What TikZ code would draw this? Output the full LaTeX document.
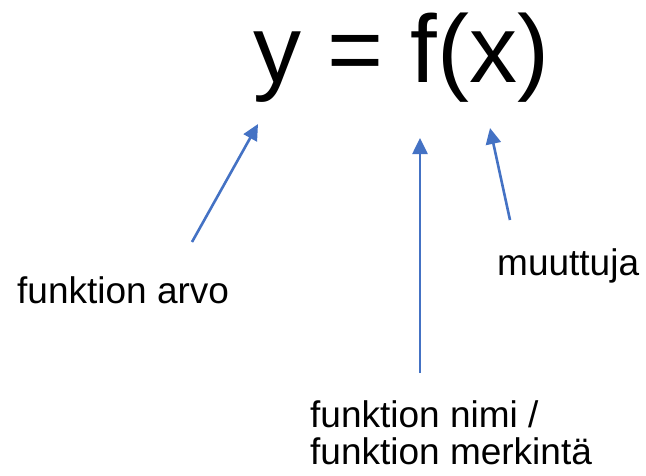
\documentclass[tikz,border=0pt]{standalone}
\usepackage{fontspec}
\setmainfont{Liberation Sans}
\usetikzlibrary{arrows.meta, positioning}
\definecolor{arrowblue}{RGB}{68, 114, 196}

\begin{document}
\begin{tikzpicture}[x=1pt, y=-1pt,
    label/.style={inner sep=0pt, font=\fontsize{37}{37}\selectfont, align=left},
    pointer/.style={draw=arrowblue, line width=2.6pt, -{Triangle[length=16pt, width=15pt]}}]
  \useasboundingbox (0,0) rectangle (646,475);

  \node[inner sep=0pt, anchor=base west, font=\fontsize{96}{96}\selectfont] (eq) at (253,82) {y = f(x)};

  \node[label, anchor=base west] (arvo) at (17,303) {funktion arvo};
  \node[label, anchor=base west] (muuttuja) at (497,275) {muuttuja};
  \node[label, anchor=north west] (nimi) at (310,400) {funktion nimi /\\funktion merkintä};

  \coordinate (ytip) at (258,124);
  \coordinate (ftip) at (420,138);
  \coordinate (xtip) at (490,128);
  \coordinate (arvotail) at (192,242);
  \coordinate (nimitail) at (420,373);
  \coordinate (muuttujatail) at (510,220);

  \draw[pointer] (arvotail) -- (ytip);
  \draw[pointer] (nimitail) -- (ftip);
  \draw[pointer] (muuttujatail) -- (xtip);
\end{tikzpicture}
\end{document}
